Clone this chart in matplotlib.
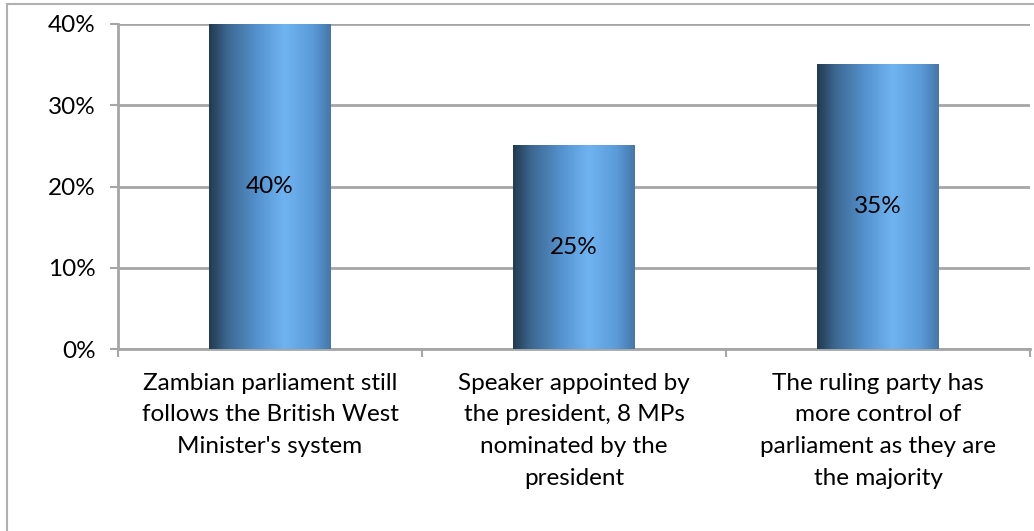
import numpy as np
import matplotlib
matplotlib.use("Agg")
import matplotlib.pyplot as plt
from matplotlib.colors import LinearSegmentedColormap
from matplotlib.patches import Rectangle

# data
categories = [
    "Zambian parliament still\nfollows the British West\nMinister's system",
    "Speaker appointed by\nthe president, 8 MPs\nnominated by the\npresident",
    "The ruling party has\nmore control of\nparliament as they are\nthe majority",
]
values = [0.40, 0.25, 0.35]
y_ticks = [0.0, 0.1, 0.2, 0.3, 0.4]
y_tick_labels = ["0%", "10%", "20%", "30%", "40%"]

plt.rcParams["font.family"] = ["Lato", "DejaVu Sans"]

W, H = 1034, 531
fig = plt.figure(figsize=(W / 100, H / 100), dpi=100)
ax = fig.add_axes([118 / W, 1 - 349 / H, (1030 - 118) / W, (349 - 24) / H])

grid_col = "#a6a6a6"
fs = 17.5
x = np.arange(len(categories))
bars = ax.bar(x, values, width=0.4, color="none", zorder=3)

# horizontal gradient for each bar (dark left, light ~60%, darker right)
cmap = LinearSegmentedColormap.from_list(
    "barshade",
    [(0.0, "#233a50"), (0.15, "#3d6791"), (0.40, "#5593cf"),
     (0.62, "#6fb4f1"), (0.85, "#5b9bd9"), (1.0, "#4677aa")],
)
grad = np.linspace(0, 1, 256).reshape(1, -1)
for b in bars:
    x0, w, h = b.get_x(), b.get_width(), b.get_height()
    ax.imshow(grad, cmap=cmap, aspect="auto", extent=(x0, x0 + w, 0, h),
              zorder=3, interpolation="bilinear")
    ax.text(x0 + w / 2, h / 2, f"{h * 100:.0f}%", ha="center", va="center",
            fontsize=fs, color="black", zorder=4)

ax.set_xlim(-0.5, len(categories) - 0.5)
ax.set_ylim(0, 0.4)
ax.set_yticks(y_ticks)
ax.set_yticklabels(y_tick_labels, fontsize=fs)
ax.set_xticks(x)
ax.set_xticklabels(categories, fontsize=fs, linespacing=1.63, va="top")
ax.tick_params(axis="x", length=0, pad=17)
ax.tick_params(axis="y", length=6, width=1.5, color=grid_col, pad=10)

# category boundary ticks
ax.set_xticks(np.arange(-0.5, len(categories), 1.0), minor=True)
ax.tick_params(axis="x", which="minor", length=6, width=1.5, color=grid_col)

ax.grid(axis="y", color=grid_col, linewidth=2, zorder=0)
ax.set_axisbelow(True)
for s in ["top", "right"]:
    ax.spines[s].set_visible(False)
for s in ["left", "bottom"]:
    ax.spines[s].set_color(grid_col)
    ax.spines[s].set_linewidth(2)

# outer chart border
fig.patches.append(Rectangle((6.5 / W, -0.1), 1.2, 1 - 4 / H + 0.1,
                             transform=fig.transFigure, fill=False,
                             edgecolor="#b0b0b0", linewidth=1.5))

fig.savefig("out.png", dpi=100)
